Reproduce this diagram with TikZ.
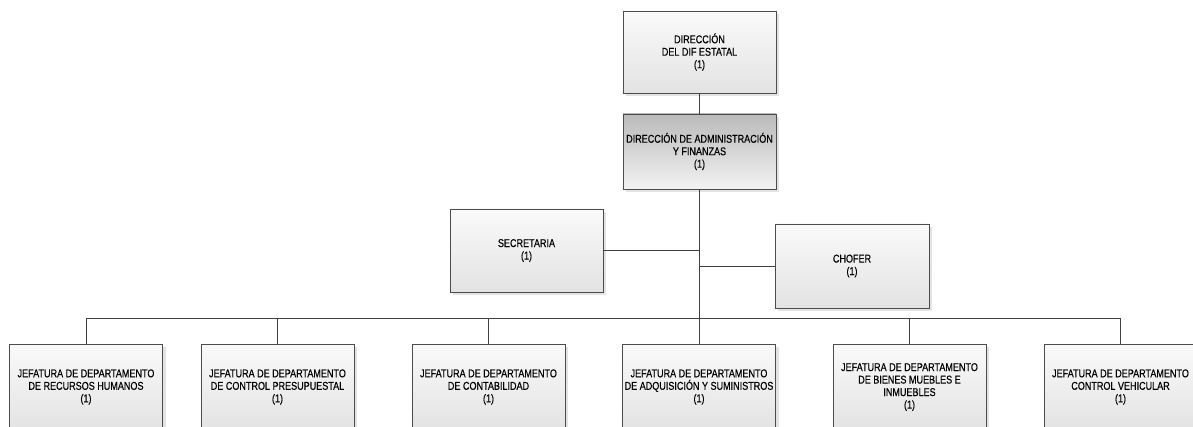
\documentclass[tikz,border=0pt]{standalone}
\usepackage{fontspec}
\setmainfont{Liberation Sans}[FakeStretch=0.8, FakeBold=0.4]
\usetikzlibrary{shadows}
\begin{document}
\begin{tikzpicture}[x=1pt,y=-1pt,
  orgbox/.style={draw=black!70, line width=0.8pt, top color=white!98!black, bottom color=white!89!black,
    drop shadow={shadow xshift=3pt, shadow yshift=-3pt, opacity=1, fill=black!11},
    minimum width=153pt, minimum height=83pt, align=center, inner sep=1pt,
    font=\fontsize{11.3}{12.5}\selectfont},
  darkbox/.style={orgbox, top color=black!27, bottom color=black!5},
  conn/.style={draw=black!75, line width=0.8pt}]
\useasboundingbox (0,0) rectangle (1193,427);
\node[orgbox, minimum height=82pt] (top) at (699.5,52) {DIRECCIÓN\\DEL DIF ESTATAL\\(1)};
\node[darkbox, minimum height=75pt] (daf) at (699.5,151.5) {DIRECCIÓN DE ADMINISTRACIÓN\\Y FINANZAS\\(1)};
\node[orgbox] (sec) at (526.5,250.5) {SECRETARIA\\(1)};
\node[orgbox, minimum height=84pt, minimum width=154pt] (cho) at (852,266) {CHOFER\\(1)};
\tikzset{jbox/.style={orgbox, minimum height=86pt}}
\node[jbox] (j1) at (86,387) {JEFATURA DE DEPARTAMENTO\\DE RECURSOS HUMANOS\\(1)};
\node[jbox] (j2) at (277.5,387) {JEFATURA DE DEPARTAMENTO\\DE CONTROL PRESUPUESTAL\\(1)};
\node[jbox] (j3) at (488.5,387) {JEFATURA DE DEPARTAMENTO\\DE CONTABILIDAD\\(1)};
\node[jbox] (j4) at (699,387) {JEFATURA DE DEPARTAMENTO\\DE ADQUISICIÓN Y SUMINISTROS\\(1)};
\node[jbox] (j5) at (909.5,387) {JEFATURA DE DEPARTAMENTO\\DE BIENES MUEBLES E\\INMUEBLES\\(1)};
\node[jbox] (j6) at (1120.5,387) {JEFATURA DE DEPARTAMENTO\\CONTROL VEHICULAR\\(1)};
\coordinate (bus) at (699.5,318);
\draw[conn] (top) -- (daf);
\draw[conn] (daf.south) -- (bus);
\draw[conn] (sec.east) -- (sec.east -| daf.south);
\draw[conn] (cho.west) -- (cho.west -| daf.south);
\foreach \j in {j1,j2,j3,j4,j5,j6}{
  \draw[conn] (bus) -| (\j.north);
}
\end{tikzpicture}
\end{document}
